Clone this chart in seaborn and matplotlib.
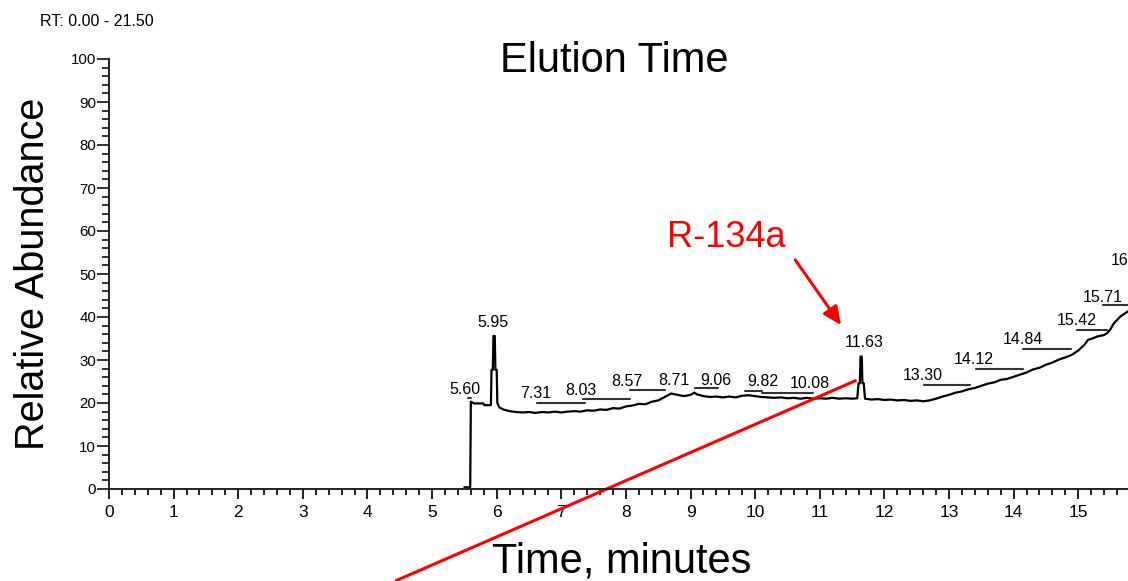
import numpy as np
import pandas as pd
import matplotlib
matplotlib.use("Agg")
import matplotlib.pyplot as plt
from matplotlib.ticker import MultipleLocator
import seaborn as sns

# ---------------- data ----------------
time_min = [5.50, 5.59, 5.60, 5.65, 5.79, 5.81, 5.89, 5.91, 5.92, 5.94, 5.95, 5.97,
            5.98, 6.00, 6.01, 6.04, 6.10, 6.20, 6.30, 6.40, 6.50, 6.60, 6.70, 6.80,
            6.90, 7.00, 7.10, 7.20, 7.30, 7.40, 7.50, 7.60, 7.70, 7.80, 7.90, 8.00,
            8.10, 8.20, 8.30, 8.40, 8.50, 8.60, 8.70, 8.80, 8.90, 9.00, 9.06, 9.10,
            9.20, 9.30, 9.40, 9.50, 9.60, 9.70, 9.80, 9.90, 10.00, 10.10, 10.20, 10.30,
            10.40, 10.50, 10.60, 10.70, 10.80, 10.90, 11.00, 11.10, 11.20, 11.30, 11.40,
            11.50, 11.58, 11.60, 11.62, 11.63, 11.65, 11.66, 11.68, 11.70, 11.80, 11.90,
            12.00, 12.10, 12.20, 12.30, 12.40, 12.50, 12.60, 12.70, 12.80, 12.90, 13.00,
            13.10, 13.20, 13.30, 13.40, 13.50, 13.60, 13.70, 13.80, 13.90, 14.00, 14.10,
            14.20, 14.30, 14.40, 14.50, 14.60, 14.70, 14.80, 14.90, 15.00, 15.10, 15.15,
            15.20, 15.30, 15.40, 15.45, 15.50, 15.55, 15.60, 15.65, 15.70, 15.77]
abundance = [0.4, 0.4, 20.3, 19.9, 19.9, 19.5, 19.5, 19.5, 27.7, 27.7, 35.6, 35.6,
             27.7, 27.7, 20.0, 19.0, 18.5, 18.1, 17.9, 17.8, 17.9, 17.7, 17.9, 17.8,
             18.0, 17.8, 18.0, 18.1, 18.0, 18.3, 18.2, 18.5, 18.4, 18.8, 18.7, 19.2,
             19.4, 19.8, 19.7, 20.3, 20.6, 21.4, 22.2, 21.9, 21.6, 21.9, 22.4, 22.0,
             21.6, 21.4, 21.5, 21.3, 21.5, 21.3, 21.7, 21.8, 21.6, 21.4, 21.3, 21.2,
             21.3, 21.1, 21.2, 21.0, 21.2, 21.0, 21.1, 21.0, 21.2, 21.0, 21.1,
             21.0, 21.1, 24.6, 24.6, 30.8, 30.8, 24.6, 24.6, 21.0, 20.8, 20.9,
             20.7, 20.8, 20.6, 20.7, 20.5, 20.6, 20.4, 20.6, 21.0, 21.5, 21.9,
             22.4, 22.7, 23.2, 23.5, 24.0, 24.5, 24.8, 25.4, 25.6, 26.1, 26.6,
             27.1, 27.8, 28.2, 28.9, 29.4, 30.1, 30.6, 31.2, 32.2, 33.6, 34.7,
             34.9, 35.5, 35.8, 36.3, 37.2, 38.5, 39.3, 40.1, 40.6, 41.3]

peak_labels = ["5.60", "5.95", "7.31", "8.03", "8.57", "8.71", "9.06", "9.82",
               "10.08", "11.63", "13.30", "14.12", "14.84", "15.42", "15.71"]
label_x = [5.51, 5.94, 6.60, 7.30, 8.01, 8.74, 9.39, 10.12,
           10.85, 11.68, 12.59, 13.39, 14.14, 14.97, 15.38]
label_y = [23.2, 38.7, 22.2, 23.0, 25.0, 25.3, 25.3, 25.0,
           24.6, 34.0, 26.3, 30.0, 34.7, 39.1, 44.6]
edge_label = "16"
edge_label_y = 53.1

bar_start = [5.56, 6.62, 7.34, 8.06, 9.07, 9.85, 10.10, 12.61, 13.41, 14.15, 14.98, 15.39]
bar_end = [5.61, 7.37, 8.07, 8.61, 9.43, 10.10, 10.90, 13.33, 14.14, 14.89, 15.44, 15.85]
bar_level = [21.2, 19.9, 21.0, 23.0, 23.4, 22.9, 22.3, 24.2, 27.8, 32.5, 37.0, 42.8]

x_ticks = list(range(0, 16))
y_ticks = list(range(0, 101, 10))

df = pd.DataFrame({"Time": time_min, "Abundance": abundance})

# ---------------- style ----------------
sns.set_style("ticks")
plt.rcParams["font.family"] = ["Liberation Sans", "DejaVu Sans"]

fig = plt.figure(figsize=(11.28, 5.81), dpi=100)
ax = fig.add_axes([109 / 1128, 1 - 489 / 581, 1 - 109 / 1128, (489 - 59) / 581])

sns.lineplot(data=df, x="Time", y="Abundance", ax=ax, color="black",
             linewidth=1.6, estimator=None, sort=False)

ax.set_xlim(0, 15.77)
ax.set_ylim(0, 100)
ax.set_xlabel("")
ax.set_ylabel("")
for s in ["top", "right"]:
    ax.spines[s].set_visible(False)
ax.spines["left"].set_bounds(0, 100)
ax.spines["left"].set_linewidth(1.4)
ax.spines["bottom"].set_linewidth(1.4)
ax.spines["left"].set_color("#222222")
ax.spines["bottom"].set_color("#222222")

ax.set_xticks(x_ticks)
ax.set_xticklabels([str(v) for v in x_ticks])
ax.set_yticks(y_ticks)
ax.set_yticklabels([str(v) for v in y_ticks])
ax.xaxis.set_minor_locator(MultipleLocator(0.2))
ax.yaxis.set_minor_locator(MultipleLocator(2))
ax.tick_params(axis="x", which="major", direction="out", length=7.2, width=1.4,
               pad=4.0, labelsize=12.5, color="#222222", labelcolor="black")
ax.tick_params(axis="x", which="minor", direction="out", length=4.6, width=1.4,
               color="#222222")
ax.tick_params(axis="y", which="major", direction="out", length=8.5, width=1.3,
               pad=0.8, labelsize=10.8, color="#222222", labelcolor="black")
ax.tick_params(axis="y", which="minor", direction="out", length=4.8, width=1.3,
               color="#222222")

# peak labels
for txt, lx, ly in zip(peak_labels, label_x, label_y):
    ax.text(lx, ly, txt, ha="center", va="center", fontsize=11.5, color="black")
ax.text(1.0, edge_label_y, edge_label, ha="right", va="center",
        fontsize=11.5, color="black", transform=ax.get_yaxis_transform())
for x1, x2, yl in zip(bar_start, bar_end, bar_level):
    ax.plot([x1, x2], [yl, yl], color="#333333", linewidth=1.5, clip_on=False)

# red annotation
ax.text(9.55, 58.6, "R-134a", ha="center", va="center", fontsize=26, color="#ff0000")
ax.annotate("", xy=(11.33, 38.1), xytext=(10.62, 53.3),
            arrowprops=dict(arrowstyle="-|>,head_length=1.1,head_width=0.5",
                            color="#ff0000", lw=2.2, shrinkA=0, shrinkB=0))
ax.plot([4.43, 11.57], [-21.4, 25.3], color="#ff0000", linewidth=2.2, clip_on=False,
        solid_capstyle="butt")

# figure texts
fig.text(614 / 1128, 1 - 72 / 581, "Elution Time", ha="center", va="baseline",
         fontsize=30, color="black")
fig.text(622 / 1128, 1 - 572 / 581, "Time, minutes", ha="center", va="baseline",
         fontsize=30, color="black")
fig.text(33 / 1128, 1 - 273.5 / 581, "Relative Abundance", ha="center", va="center",
         rotation=90, fontsize=28.5, color="black")
fig.text(40 / 1128, 1 - 21 / 581, "RT: 0.00 - 21.50", ha="left", va="center",
         fontsize=11.5, color="black")

fig.savefig("out.png", dpi=100)
